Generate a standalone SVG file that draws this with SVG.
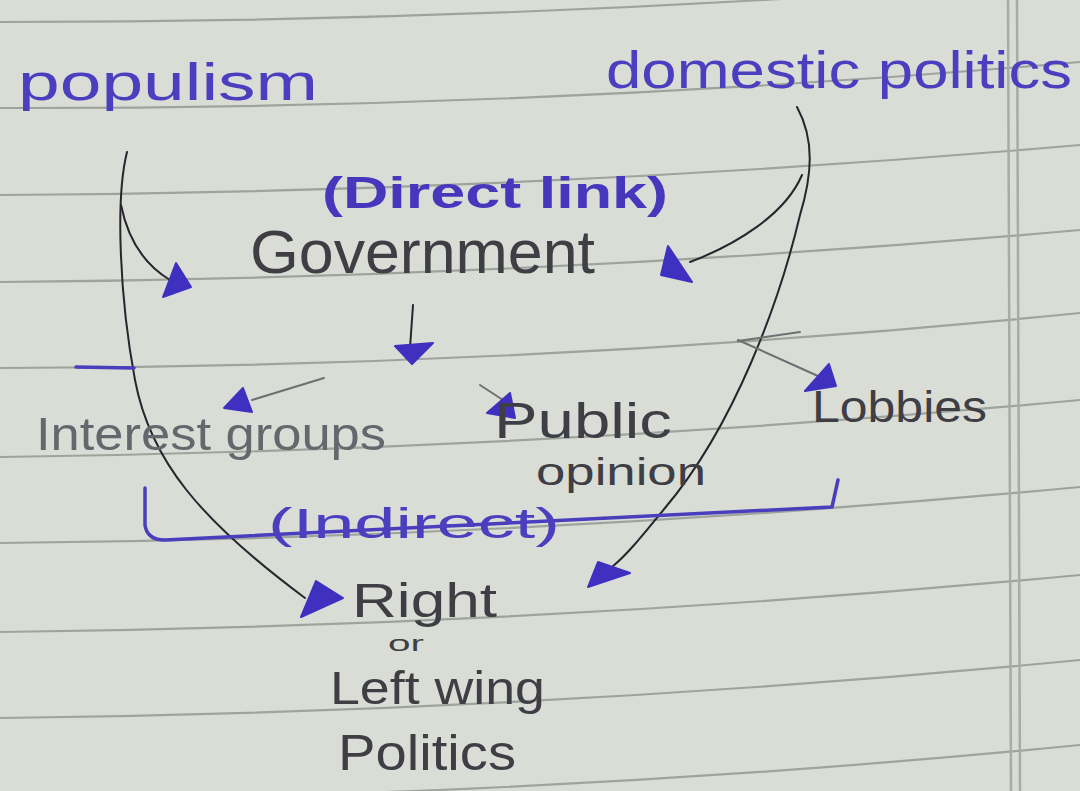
<svg xmlns="http://www.w3.org/2000/svg" width="1080" height="791" viewBox="0 0 1080 791">
<style>
.paper{fill:#d9ddd6}
.rule{fill:none;stroke:#9ea39c;stroke-width:2.2}
.margin{fill:none;stroke:#a7aca6;stroke-width:2.5}
.blue{font-family:"Liberation Sans",Arial,sans-serif;fill:#4b3fc0}
.blueb{font-family:"Liberation Sans",Arial,sans-serif;fill:#4637bd;font-weight:bold}
.pen{font-family:"Liberation Sans",Arial,sans-serif;fill:#3e3e44}
.pencil{font-family:"Liberation Sans",Arial,sans-serif;fill:#66676c}
.ink{fill:none;stroke:#26262c;stroke-width:2;stroke-linecap:round}
.grey{fill:none;stroke:#6e7072;stroke-width:2;stroke-linecap:round}
.bline{fill:none;stroke:#4a3ebd;stroke-width:3.5;stroke-linecap:round;stroke-linejoin:round}
.head{fill:#3f30c0;stroke:#3f30c0;stroke-width:2;stroke-linejoin:round}
</style>
<rect class="paper" x="0" y="0" width="1080" height="791"/>
<g id="paper-lines">
<path class="rule" d="M0,22 Q540,22 1080,-22"/>
<path class="rule" d="M0,108 Q540,109 1080,62"/>
<path class="rule" d="M0,195 Q540,192 1080,145"/>
<path class="rule" d="M0,282 Q540,278 1080,230"/>
<path class="rule" d="M0,368 Q540,367 1080,313"/>
<path class="rule" d="M0,457 Q540,450 1080,400"/>
<path class="rule" d="M0,543 Q540,538 1080,487"/>
<path class="rule" d="M0,632 Q540,626 1080,575"/>
<path class="rule" d="M0,718 Q540,712 1080,660"/>
<path class="rule" d="M0,800 Q540,798 1080,745"/>
<line class="margin" x1="1008" y1="0" x2="1011" y2="791"/>
<line class="margin" x1="1017" y1="0" x2="1020" y2="791"/>
</g>
<g id="connectors">
<path class="ink" d="M127,152 C115,200 120,300 135,380 C150,460 200,520 305,598"/>
<polygon class="head" points="316,581 343,598 301,617"/>
<path class="ink" d="M121,205 C128,240 145,265 170,280"/>
<polygon class="head" points="176,263 191,287 163,297"/>
<path class="ink" d="M797,107 C815,140 812,175 800,215 C780,300 735,425 665,508 C645,532 630,552 612,567"/>
<polygon class="head" points="598,562 630,573 588,587"/>
<path class="ink" d="M802,175 C785,215 735,245 690,262"/>
<polygon class="head" points="668,246 692,282 661,275"/>
<path class="ink" d="M413,305 L410,348"/>
<polygon class="head" points="395,346 433,343 412,364"/>
<path class="grey" d="M324,378 L252,400"/>
<polygon class="head" points="243,388 252,412 224,408"/>
<path class="grey" d="M480,385 L506,402"/>
<polygon class="head" points="510,393 515,418 487,413"/>
<path class="grey" d="M738,340 L818,376"/>
<path class="grey" d="M738,341 L800,332"/>
<polygon class="head" points="829,364 836,386 805,391"/>
<path class="bline" d="M76,367 L134,368"/>
<path class="bline" d="M145,488 L145,525 Q147,540 165,540 L832,507 L838,480"/>
</g>
<g id="node-populism">
<text class="blue" x="18" y="100" font-size="52" textLength="300" lengthAdjust="spacingAndGlyphs">populism</text>
</g>
<g id="node-domestic-politics">
<text class="blue" x="606" y="88" font-size="52" textLength="466" lengthAdjust="spacingAndGlyphs">domestic politics</text>
</g>
<g id="label-direct-link">
<text class="blueb" x="322" y="208" font-size="44" textLength="346" lengthAdjust="spacingAndGlyphs">(Direct link)</text>
</g>
<g id="node-government">
<text class="pen" x="250" y="273" font-size="62" textLength="345" lengthAdjust="spacingAndGlyphs">Government</text>
</g>
<g id="node-interest-groups">
<text class="pencil" x="36" y="450" font-size="46" textLength="350" lengthAdjust="spacingAndGlyphs">Interest groups</text>
</g>
<g id="node-public-opinion">
<text class="pen" x="494" y="438" font-size="50" textLength="178" lengthAdjust="spacingAndGlyphs">Public</text>
<text class="pen" x="536" y="485" font-size="38" textLength="170" lengthAdjust="spacingAndGlyphs">opinion</text>
</g>
<g id="node-lobbies">
<text class="pen" x="812" y="422" font-size="44" textLength="175" lengthAdjust="spacingAndGlyphs">Lobbies</text>
</g>
<g id="label-indirect">
<text class="blue" x="268" y="538" font-size="42" textLength="292" lengthAdjust="spacingAndGlyphs">(Indirect)</text>
</g>
<g id="node-wing-politics">
<text class="pen" x="352" y="617" font-size="48" textLength="145" lengthAdjust="spacingAndGlyphs">Right</text>
<text class="pen" x="388" y="651" font-size="22" textLength="36" lengthAdjust="spacingAndGlyphs">or</text>
<text class="pen" x="330" y="704" font-size="46" textLength="215" lengthAdjust="spacingAndGlyphs">Left wing</text>
<text class="pen" x="338" y="770" font-size="50" textLength="178" lengthAdjust="spacingAndGlyphs">Politics</text>
</g>
</svg>
